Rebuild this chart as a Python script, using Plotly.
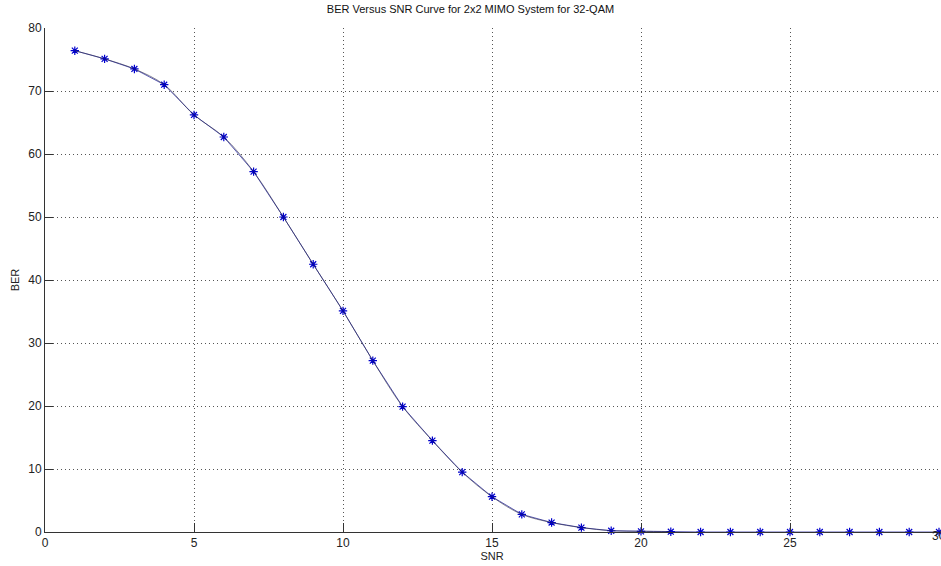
import plotly.graph_objects as go

snr = list(range(1, 31))
ber = [76.4, 75.1, 73.5, 71.0, 66.2, 62.7, 57.2, 50.0, 42.5, 35.1,
       27.2, 19.9, 14.5, 9.5, 5.6, 2.8, 1.5, 0.7, 0.2, 0.1,
       0.05, 0, 0, 0, 0, 0, 0, 0, 0, 0]
x_ticks = [0, 5, 10, 15, 20, 25, 30]
y_ticks = [0, 10, 20, 30, 40, 50, 60, 70, 80]

fig = go.Figure()
fig.add_trace(go.Scatter(
    x=snr, y=ber, mode="lines+markers",
    line=dict(color="#5a5ab4", width=1),
    marker=dict(symbol="asterisk-open", size=7, color="#0000cc",
                line=dict(color="#0000cc", width=1.2)),
    cliponaxis=False, showlegend=False))
fig.add_trace(go.Scatter(
    x=snr[:21], y=ber[:21], mode="lines",
    line=dict(color="#202040", width=1, shape="spline"),
    opacity=0.55, showlegend=False, hoverinfo="skip"))

font_family = "Liberation Sans, Arial, sans-serif"
axis_font = dict(family=font_family, size=12, color="#222")
fig.update_layout(
    width=941, height=566,
    margin=dict(l=45, r=2, t=28, b=34),
    paper_bgcolor="white", plot_bgcolor="white",
    title=dict(text="BER Versus SNR Curve for 2x2 MIMO System for 32-QAM",
               x=0.5, xanchor="center", y=0.983, yanchor="middle",
               font=dict(family=font_family, size=11, color="#111")),
    xaxis=dict(range=[0, 30], tickvals=x_ticks, ticks="inside", ticklen=9,
               tickcolor="#333", showline=True, linecolor="#333", linewidth=1,
               showgrid=True, gridcolor="#555", griddash="1px,3px", gridwidth=1,
               zeroline=False, tickfont=axis_font,
               title=dict(text="SNR", font=dict(family=font_family, size=11, color="#222"), standoff=2)),
    yaxis=dict(range=[0, 80], tickvals=y_ticks, ticks="inside", ticklen=8,
               tickcolor="#333", showline=True, linecolor="#333", linewidth=1,
               showgrid=True, gridcolor="#555", griddash="1px,3px", gridwidth=1,
               zeroline=False, tickfont=axis_font,
               title=dict(text="BER", font=dict(family=font_family, size=11, color="#222"), standoff=6)),
)
# last x tick label (clipped at the right edge in the original)
fig.add_annotation(x=x_ticks[-1], xref="x", y=0, yref="paper", yshift=-13,
                   text=str(x_ticks[-1]), showarrow=False, xanchor="center",
                   font=axis_font)
fig.write_html("out.html")
